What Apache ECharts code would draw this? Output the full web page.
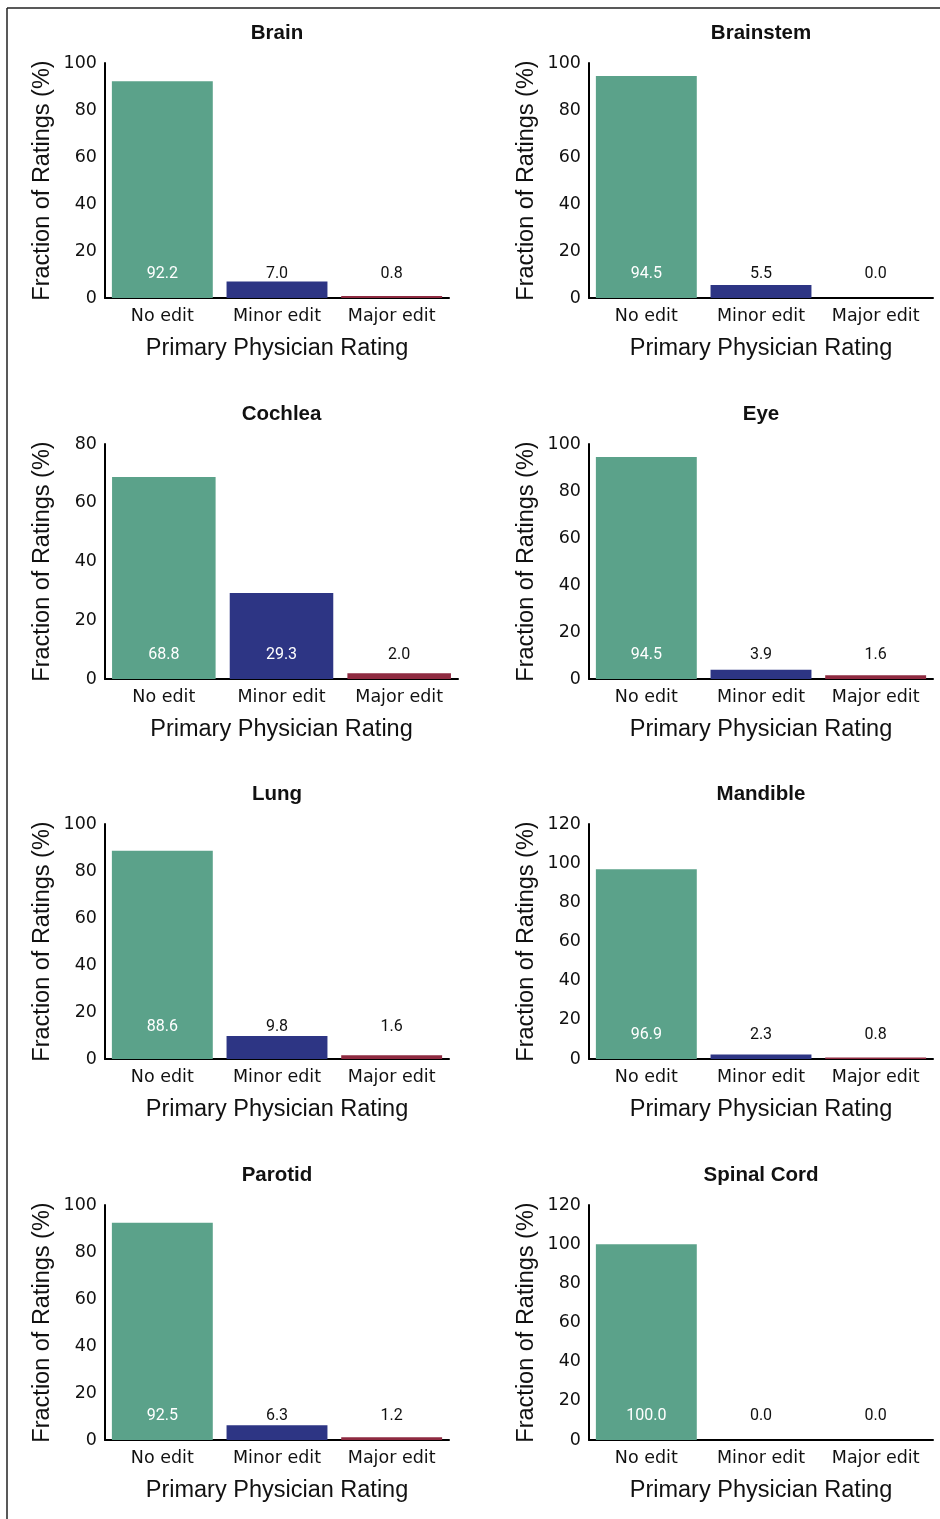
<!DOCTYPE html>
<html>
<head>
<meta charset="utf-8">
<script src="https://cdn.jsdelivr.net/npm/echarts@6/dist/echarts.min.js"></script>
<style>
html,body{margin:0;padding:0;background:#fff;}
#chart{width:940px;height:1519px;}
</style>
</head>
<body>
<div id="chart"></div>
<script>
// ---- data ----
const panelNames = ['Brain', 'Brainstem', 'Cochlea', 'Eye', 'Lung', 'Mandible', 'Parotid', 'Spinal Cord'];
const categories = ['No edit', 'Minor edit', 'Major edit'];
const brain      = [92.2, 7.0, 0.8];
const brainstem  = [94.5, 5.5, 0.0];
const cochlea    = [68.8, 29.3, 2.0];
const eye        = [94.5, 3.9, 1.6];
const lung       = [88.6, 9.8, 1.6];
const mandible   = [96.9, 2.3, 0.8];
const parotid    = [92.5, 6.3, 1.2];
const spinalCord = [100.0, 0.0, 0.0];
const yAxisMax   = [100, 100, 80, 100, 100, 120, 100, 120];
const yAxisStep  = 20;
const xTitle = 'Primary Physician Rating';
const yTitle = 'Fraction of Ratings (%)';

const seriesValues = [brain, brainstem, cochlea, eye, lung, mandible, parotid, spinalCord];

// ---- layout / style ----
const barColors = ['#5BA28A', '#2D3584', '#8E2A40'];
const colLeft = [105, 589];
const rowTop = [63, 444, 824, 1205];
const plotW = [344, 344, 353, 344, 344, 344, 344, 344];
const plotH = 235;
const labelDist = [16, 16, 16, 16, 24, 16, 16, 16];
const titleFont = '"Liberation Sans", Arial, sans-serif';

const grids = [], xAxes = [], yAxes = [], series = [], titles = [];
panelNames.forEach((name, i) => {
  const col = i % 2, row = Math.floor(i / 2);
  const left = colLeft[col], top = rowTop[row], w = plotW[i];
  grids.push({left: left, top: top, width: w, height: plotH, containLabel: false});
  titles.push({
    text: name, left: left + w / 2, top: top - 40, textAlign: 'center', padding: 0,
    textStyle: {fontFamily: titleFont, fontWeight: 'bold', fontSize: 20.5, color: '#111'}
  });
  xAxes.push({
    type: 'category', gridIndex: i, data: categories,
    axisLine: {show: true, lineStyle: {color: '#000', width: 2}},
    axisTick: {show: false},
    axisLabel: {color: '#111', fontFamily: '"DejaVu Sans", sans-serif', fontSize: 17.5, margin: 9, interval: 0},
    name: xTitle, nameLocation: 'middle', nameGap: 39,
    nameTextStyle: {fontFamily: titleFont, fontSize: 23.5, color: '#111'}
  });
  yAxes.push({
    type: 'value', gridIndex: i, min: 0, max: yAxisMax[i], interval: yAxisStep,
    axisLine: {show: true, lineStyle: {color: '#000', width: 2}},
    axisTick: {show: false},
    splitLine: {show: false},
    axisLabel: {color: '#111', fontFamily: '"DejaVu Sans", sans-serif', fontSize: 17.5, margin: 8},
    name: yTitle, nameLocation: 'middle', nameGap: 50,
    nameTextStyle: {fontFamily: titleFont, fontSize: 23.5, color: '#111'}
  });
  series.push({
    type: 'bar', xAxisIndex: i, yAxisIndex: i,
    barCategoryGap: '12%',
    data: seriesValues[i].map((v, k) => ({
      value: v,
      itemStyle: {color: barColors[k]},
      label: {color: v >= 20 ? '#fff' : '#111'}
    })),
    label: {
      show: true, position: 'insideBottom', distance: labelDist[i],
      fontFamily: 'Roboto, "Liberation Sans", sans-serif', fontSize: 16,
      formatter: p => Number(p.value).toFixed(1)
    },
    animation: false
  });
});

const chart = echarts.init(document.getElementById('chart'), null, {renderer: 'canvas'});
chart.setOption({
  backgroundColor: '#fff',
  animation: false,
  title: titles,
  grid: grids,
  xAxis: xAxes,
  yAxis: yAxes,
  series: series,
  graphic: [
    {type: 'line', shape: {x1: 7, y1: 8, x2: 940, y2: 8}, style: {stroke: '#222', lineWidth: 1.5}},
    {type: 'line', shape: {x1: 7, y1: 8, x2: 7, y2: 1519}, style: {stroke: '#222', lineWidth: 1.5}}
  ]
});
</script>
</body>
</html>
